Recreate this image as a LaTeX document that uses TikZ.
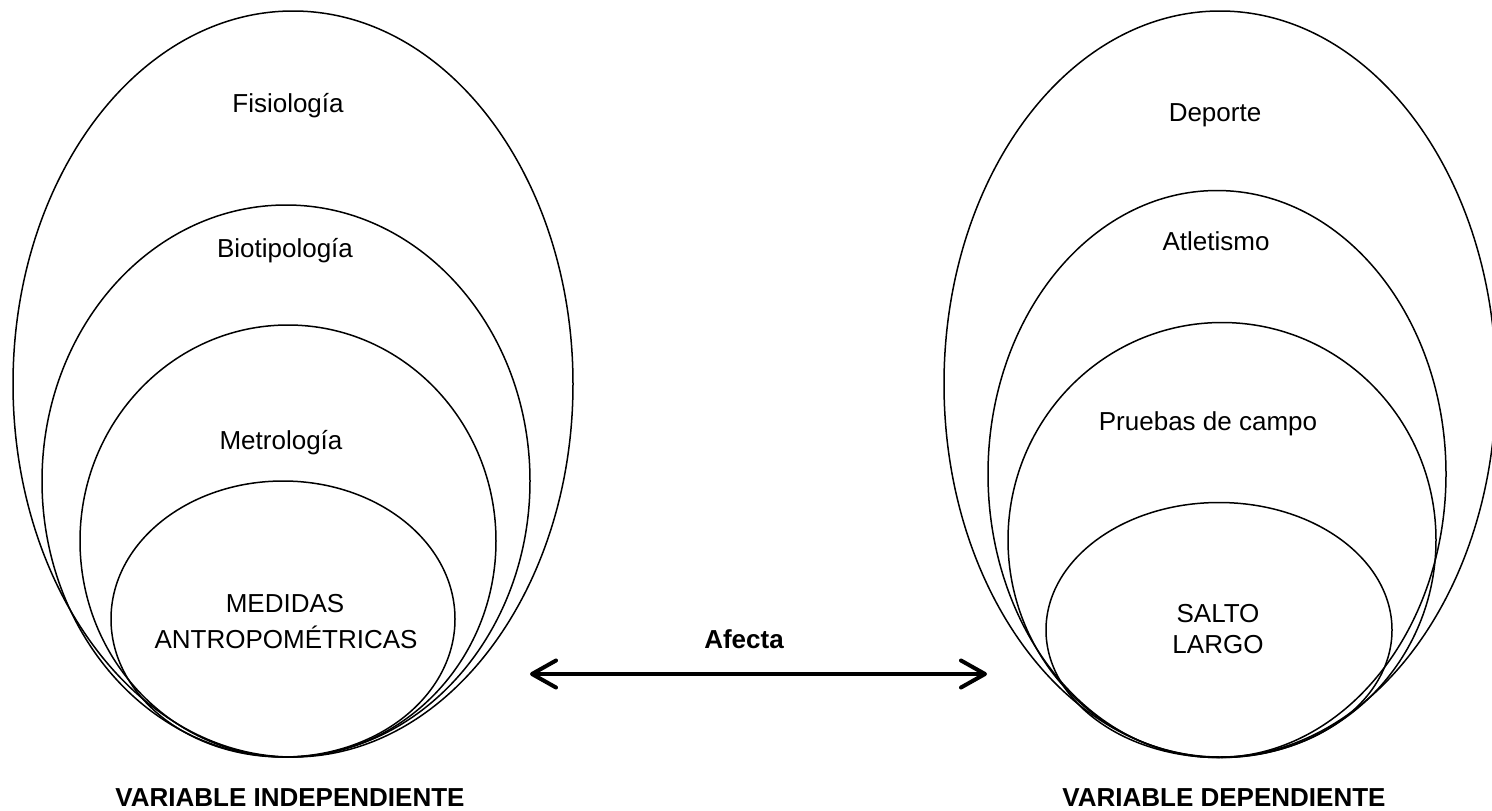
\documentclass[tikz,border=0pt]{standalone}
\usepackage{fontspec}
\setmainfont{Liberation Sans}
\usetikzlibrary{shapes.geometric,arrows.meta}
\tikzset{
  oval/.style={draw=black, line width=1.5pt, shape=ellipse, inner sep=0pt, minimum width=#1},
  lbl/.style={anchor=base, font=\fontsize{26}{31}\selectfont, text=black, inner sep=0pt},
  biglbl/.style={anchor=base, font=\fontsize{26}{31}\selectfont\bfseries, text=black, inner sep=0pt},
  link/.style={line width=4pt, {Straight Barb[length=24pt,width=27pt,round]}-{Straight Barb[length=24pt,width=27pt,round]}}
}
\begin{document}
\begin{tikzpicture}[x=1pt,y=-1pt]
\useasboundingbox[fill=white] (0,0) rectangle (1492,811);
% left group
\node[oval=560pt, minimum height=746pt] (fis) at (293,384) {};
\node[oval=488pt, minimum height=552pt] (bio) at (286,481) {};
\node[oval=416pt, minimum height=432pt] (met) at (288,541) {};
\node[oval=344pt, minimum height=276pt] (med) at (283,619) {};
\node[lbl] (tfis) at (288,112) {Fisiología};
\node[lbl] (tbio) at (285,257) {Biotipología};
\node[lbl] (tmet) at (281,449) {Metrología};
\node[lbl] (tmed1) at (285,612) {MEDIDAS};
\node[lbl] (tmed2) at (286,648) {ANTROPOMÉTRICAS};
\node[biglbl] (vi) at (290,806) {VARIABLE INDEPENDIENTE};
% right group
\node[oval=552pt, minimum height=746pt] (dep) at (1220,384) {};
\node[oval=458pt, minimum height=567pt] (atl) at (1217,474) {};
\node[oval=428pt, minimum height=435pt] (pru) at (1222,540) {};
\node[oval=346pt, minimum height=255pt] (sal) at (1219,630) {};
\node[lbl] (tdep) at (1215,121) {Deporte};
\node[lbl] (tatl) at (1216,250) {Atletismo};
\node[lbl] (tpru) at (1208,430) {Pruebas de campo};
\node[lbl] (tsal1) at (1218,622) {SALTO};
\node[lbl] (tsal2) at (1218,653) {LARGO};
\node[biglbl] (vd) at (1224,806) {VARIABLE DEPENDIENTE};
% connector
\coordinate (aL) at (530,674);
\coordinate (aR) at (987,674);
\draw[link] (aL) -- (aR);
\node[biglbl] (afecta) at (744,648) {Afecta};
\end{tikzpicture}
\end{document}
